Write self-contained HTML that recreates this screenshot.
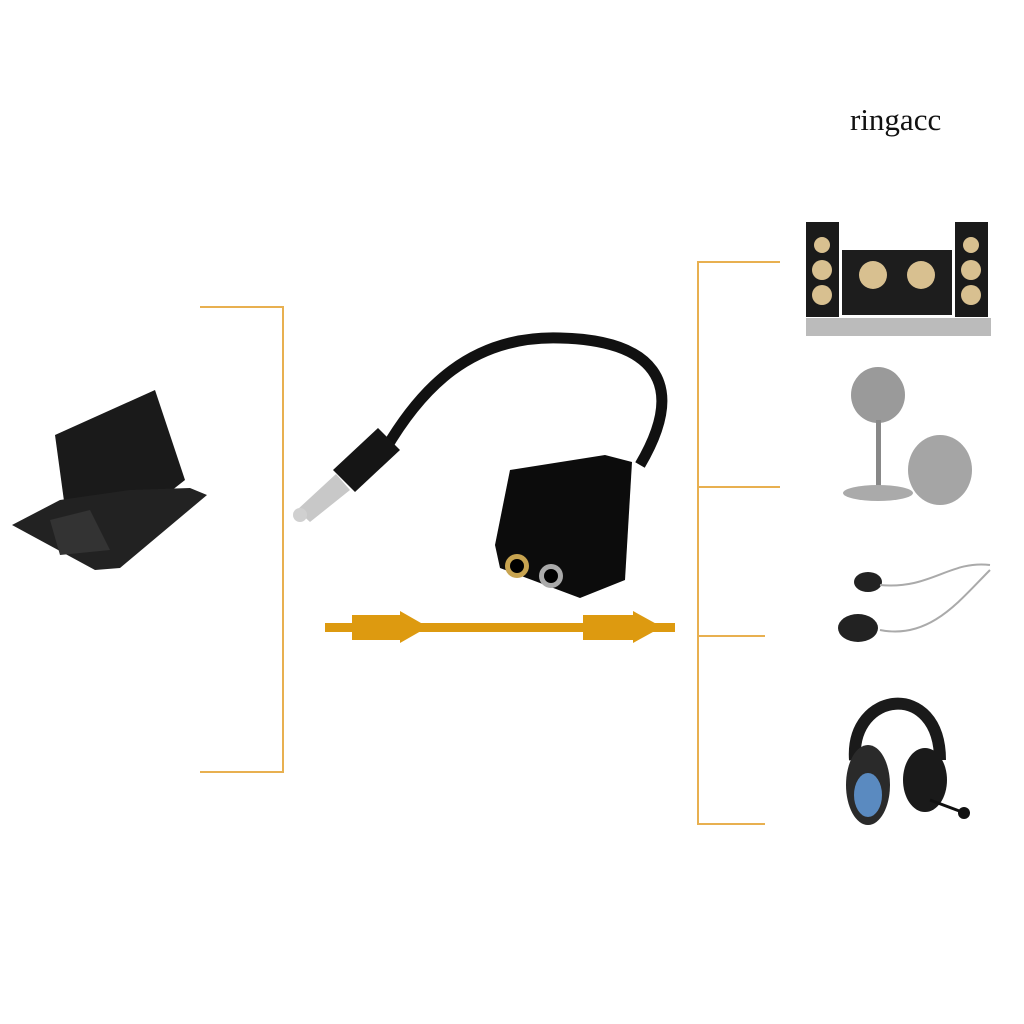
<!DOCTYPE html>
<html><head><style>
html,body{margin:0;padding:0;background:#fff;width:1024px;height:1024px;overflow:hidden}
</style></head><body>
<svg width="1024" height="1024" viewBox="0 0 1024 1024" xmlns="http://www.w3.org/2000/svg">
<rect width="1024" height="1024" fill="#fff"/>
<text x="850" y="130" font-family="Liberation Serif, serif" font-size="31" fill="#111">ringacc</text>
<!-- brackets -->
<g stroke="#e8b050" stroke-width="2" fill="none">
<path d="M200 307H283V772H200"/>
<path d="M780 262H698V824H765"/>
<path d="M698 487H780"/>
<path d="M698 636H765"/>
</g>
<!-- arrow -->
<g fill="#dd9a10">
<rect x="325" y="623" width="350" height="9"/>
<rect x="352" y="615" width="50" height="25"/>
<polygon points="400,611 428,627 400,643"/>
<rect x="583" y="615" width="52" height="25"/>
<polygon points="633,611 662,627 633,643"/>
</g>
<!-- laptop -->
<polygon points="55,435 155,390 185,480 115,535 70,545" fill="#1a1a1a"/>
<polygon points="12,525 60,500 130,490 190,488 207,495 120,568 95,570" fill="#222"/>
<polygon points="50,520 90,510 110,550 60,555" fill="#333"/>
<!-- adapter cable -->
<path d="M385 450 C420 390 470 335 560 338 C650 340 690 380 640 465" stroke="#111" stroke-width="11" fill="none"/>
<polygon points="333,470 378,428 400,450 355,492" fill="#151515"/>
<polygon points="297,510 336,474 350,490 310,522" fill="#c8c8c8"/>
<circle cx="300" cy="515" r="7" fill="#d0d0d0"/>
<path d="M510 470 L605 455 L632 462 L625 580 L580 598 L500 568 L495 545 Z" fill="#0c0c0c"/>
<circle cx="517" cy="566" r="12" fill="#c8a450"/><circle cx="517" cy="566" r="7" fill="#000"/>
<circle cx="551" cy="576" r="12" fill="#aaa"/><circle cx="551" cy="576" r="7" fill="#000"/>
<!-- speakers -->
<rect x="806" y="222" width="33" height="95" fill="#1a1a1a"/>
<rect x="955" y="222" width="33" height="95" fill="#1a1a1a"/>
<rect x="842" y="250" width="110" height="65" fill="#1d1d1d"/>
<circle cx="822" cy="245" r="8" fill="#d8c090"/><circle cx="822" cy="270" r="10" fill="#d8c090"/><circle cx="822" cy="295" r="10" fill="#d8c090"/>
<circle cx="971" cy="245" r="8" fill="#d8c090"/><circle cx="971" cy="270" r="10" fill="#d8c090"/><circle cx="971" cy="295" r="10" fill="#d8c090"/>
<circle cx="873" cy="275" r="14" fill="#d8c090"/><circle cx="921" cy="275" r="14" fill="#d8c090"/>
<rect x="806" y="318" width="185" height="18" fill="#bbb"/>
<!-- microphones -->
<ellipse cx="878" cy="395" rx="27" ry="28" fill="#9a9a9a"/>
<rect x="876" y="420" width="5" height="70" fill="#888"/>
<ellipse cx="878" cy="493" rx="35" ry="8" fill="#aaa"/>
<ellipse cx="940" cy="470" rx="32" ry="35" fill="#a5a5a5"/>
<!-- earphones -->
<ellipse cx="868" cy="582" rx="14" ry="10" fill="#222"/>
<ellipse cx="858" cy="628" rx="20" ry="14" fill="#222"/>
<path d="M880 585 C930 590 950 560 990 565 M880 630 C930 640 960 600 990 570" stroke="#aaa" stroke-width="2" fill="none"/>
<!-- headphones -->
<path d="M855 760 C850 690 940 680 940 760" stroke="#1a1a1a" stroke-width="12" fill="none"/>
<ellipse cx="868" cy="785" rx="22" ry="40" fill="#2a2a2a"/>
<ellipse cx="868" cy="795" rx="14" ry="22" fill="#5a8ac0"/>
<ellipse cx="925" cy="780" rx="22" ry="32" fill="#1a1a1a"/>
<path d="M930 800 L962 812" stroke="#111" stroke-width="3"/><circle cx="964" cy="813" r="6" fill="#111"/>
</svg>
</body></html>
